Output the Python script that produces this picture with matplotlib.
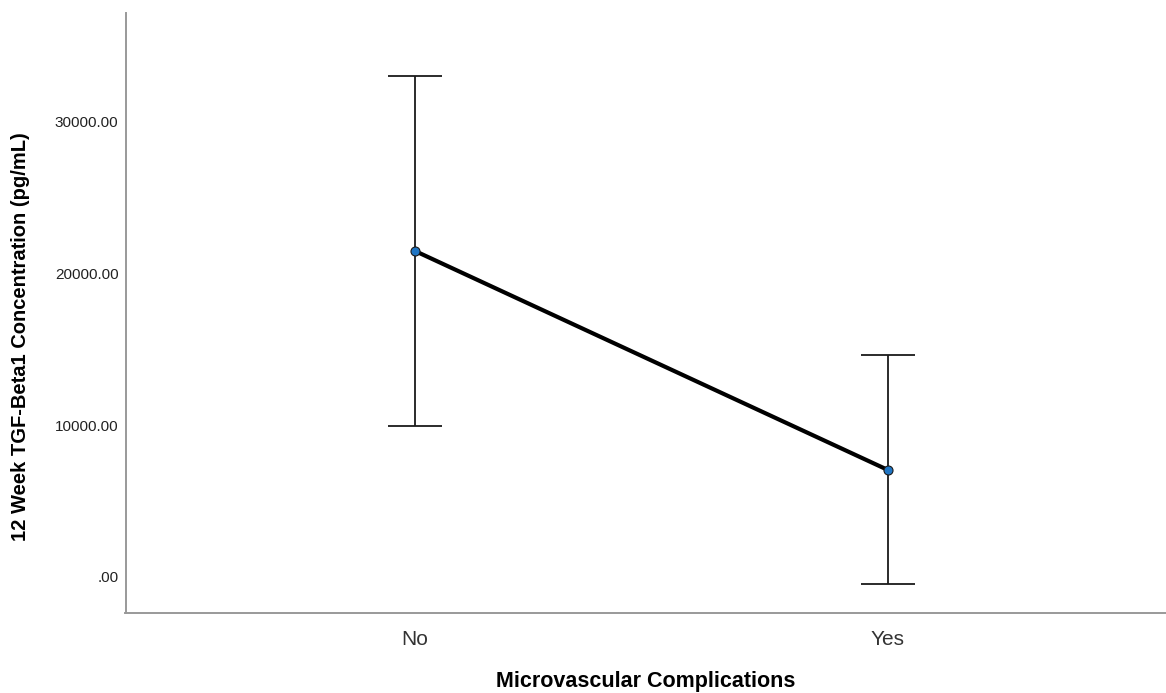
import matplotlib
matplotlib.use("Agg")
import matplotlib.pyplot as plt

categories = ["No", "Yes"]
means = [21490, 7050]
upper = [33030, 14630]
lower = [9950, -460]
yticks = [0, 10000, 20000, 30000]
ytick_labels = [".00", "10000.00", "20000.00", "30000.00"]

plt.rcParams['font.family'] = ['Liberation Sans', 'DejaVu Sans']

fig = plt.figure(figsize=(11.66, 6.93), dpi=100)
ax = fig.add_axes([125.5/1166, 1-613/693, 1-125.5/1166, 600/693])

x = list(range(len(categories)))
err_lo = [m - l for m, l in zip(means, lower)]
err_hi = [u - m for m, u in zip(means, upper)]
ax.errorbar(x, means, yerr=[err_lo, err_hi], fmt='none', ecolor='#1a1a1a',
            elinewidth=1.3, capsize=19.5, capthick=1.3, zorder=2)
ax.plot(x, means, color='black', linewidth=3.0, zorder=3)
ax.plot(x, means, 'o', markersize=6.5, markerfacecolor='#1f75c4',
        markeredgecolor='#1a1a1a', markeredgewidth=0.8, linestyle='none', zorder=4)

ax.set_xlim(-0.612, 1.588)
ax.set_ylim(-2380, 37180)
ax.set_xticks(x)
ax.set_xticklabels(categories, fontsize=15, color='#333333')
ax.set_yticks(yticks)
ax.set_yticklabels(ytick_labels, fontsize=11, color='#222222')
ax.tick_params(axis='both', length=0)
ax.tick_params(axis='x', pad=12)
ax.tick_params(axis='y', pad=5)

for s in ['top', 'right']:
    ax.spines[s].set_visible(False)
for s in ['left', 'bottom']:
    ax.spines[s].set_color('#999999')
    ax.spines[s].set_linewidth(1.4)

ax.set_xlabel("Microvascular Complications", fontsize=15.5, fontweight='bold')
ax.xaxis.set_label_coords(0.5, -0.096)
ax.set_ylabel("12 Week TGF-Beta1 Concentration (pg/mL)", fontsize=14.5, fontweight='bold')
ax.yaxis.set_label_coords(-0.092, 0.46)

fig.savefig("out.png", dpi=100)
